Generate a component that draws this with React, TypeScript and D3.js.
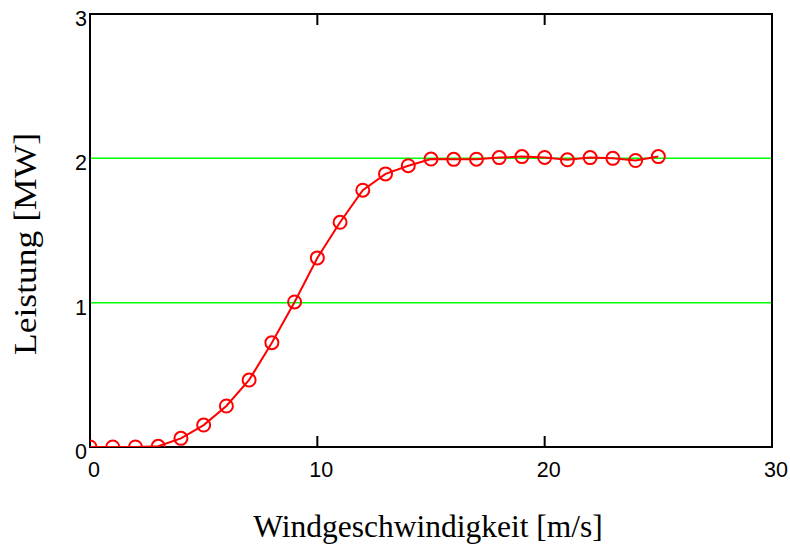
import React from "react";
import * as d3 from "d3";

const windSpeeds = [0, 1, 2, 3, 4, 5, 6, 7, 8, 9, 10, 11, 12, 13, 14, 15, 16, 17, 18, 19, 20, 21, 22, 23, 24, 25];
const powerMW = [0, 0, 0, 0.005, 0.06, 0.152, 0.284, 0.464, 0.723, 1.005, 1.31, 1.557, 1.779, 1.892, 1.949, 1.995, 1.993, 1.994, 2.005, 2.012, 2.006, 1.99, 2.005, 2.0, 1.985, 2.012];
const xTicks = [0, 10, 20, 30];
const yTicks = [0, 1, 2, 3];
const gridValues = [1, 2];
const xTitle = "Windgeschwindigkeit [m/s]";
const yTitle = "Leistung [MW]";

export default function App() {
  const W = 790, H = 547;
  const left = 90, right = 772, top = 14, bottom = 447;
  const x = d3.scaleLinear().domain([0, 30]).range([left, right]);
  const y = d3.scaleLinear().domain([0, 3]).range([bottom, top]);
  const line = d3.line<number>().x((_, i) => x(windSpeeds[i])).y((d) => y(d));
  const tickLen = 11;
  return (
    <svg width={W} height={H} style={{ position: "absolute", left: 0, top: 0, background: "#fff" }}>
      <defs>
        <clipPath id="plot">
          <rect x={left} y={top} width={right - left} height={bottom - top} />
        </clipPath>
      </defs>
      {gridValues.map((g) => (
        <line key={g} x1={left} x2={right} y1={y(g)} y2={y(g)} stroke="#00ff00" strokeWidth={1.5} />
      ))}
      {xTicks.slice(1, -1).map((t) => (
        <g key={t}>
          <line x1={x(t)} x2={x(t)} y1={bottom} y2={bottom - tickLen} stroke="#000" strokeWidth={2} />
          <line x1={x(t)} x2={x(t)} y1={top} y2={top + tickLen} stroke="#000" strokeWidth={2} />
        </g>
      ))}
      <rect x={left} y={top} width={right - left} height={bottom - top} fill="none" stroke="#000" strokeWidth={2} />
      <g clipPath="url(#plot)">
        <path d={line(powerMW) || ""} fill="none" stroke="#ff0000" strokeWidth={2} />
        {powerMW.map((v, i) => (
          <circle key={i} cx={x(windSpeeds[i])} cy={y(v)} r={6.5} fill="none" stroke="#ff0000" strokeWidth={2} />
        ))}
      </g>
      {xTicks.map((t) => (
        <text key={t} x={x(t) + 4} y={477} textAnchor="middle" fontFamily="Liberation Sans, Arial, sans-serif" fontSize={21.5} fill="#000">
          {t}
        </text>
      ))}
      {yTicks.map((t) => (
        <text key={t} x={87} y={y(t) + 12} textAnchor="end" fontFamily="Liberation Sans, Arial, sans-serif" fontSize={21.5} fill="#000">
          {t}
        </text>
      ))}
      <text x={428} y={537} textAnchor="middle" fontFamily="Liberation Serif, Times New Roman, serif" fontSize={31.5} fill="#000">
        {xTitle}
      </text>
      <text transform={`translate(36,244) rotate(-90)`} textAnchor="middle" fontFamily="Liberation Serif, Times New Roman, serif" fontSize={32} textLength={222} lengthAdjust="spacingAndGlyphs" fill="#000">
        {yTitle}
      </text>
    </svg>
  );
}
